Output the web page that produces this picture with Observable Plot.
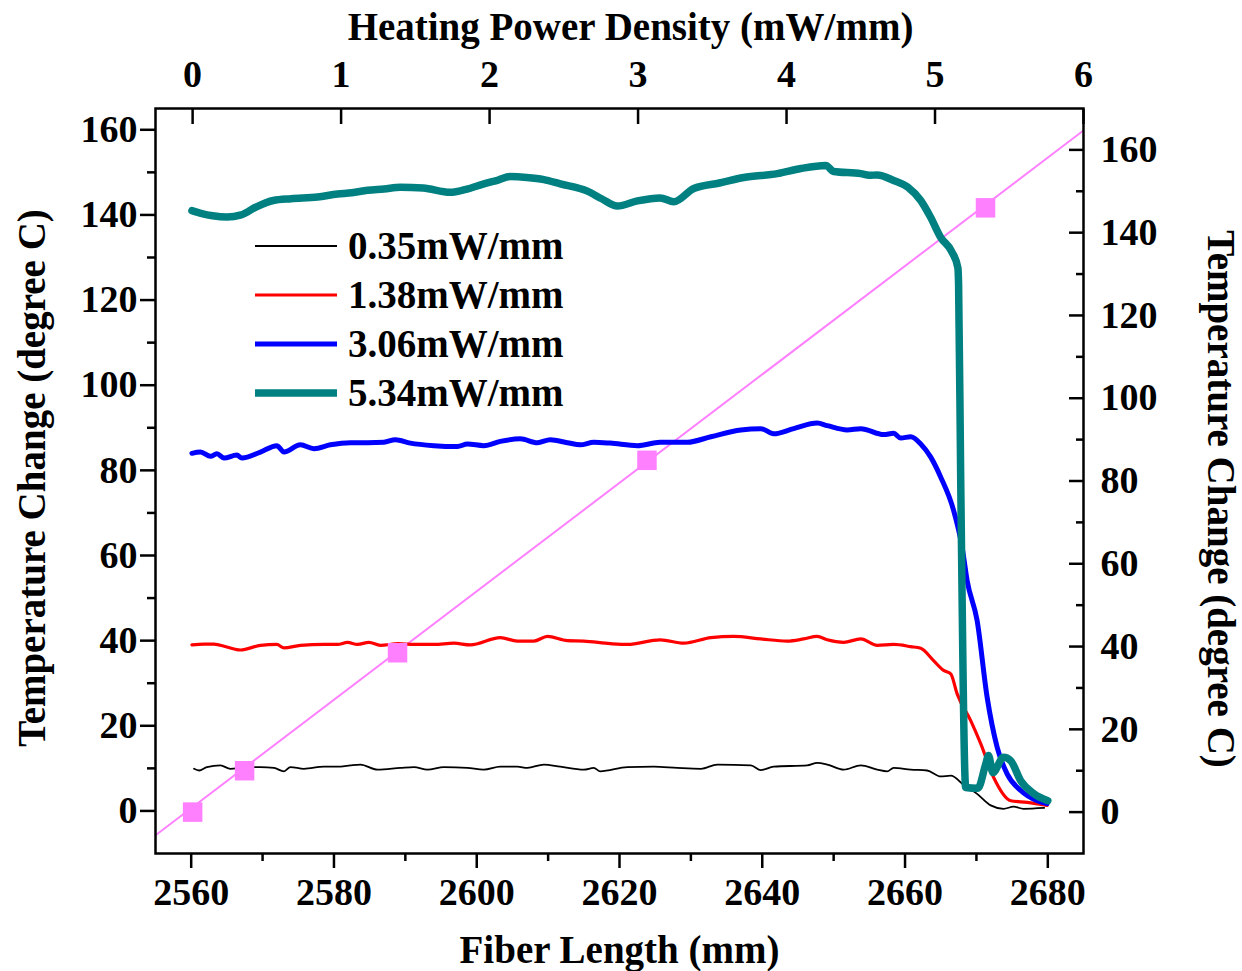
<!DOCTYPE html>
<html><head><meta charset="utf-8">
<script src="https://cdn.jsdelivr.net/npm/d3@7"></script>
<script src="https://cdn.jsdelivr.net/npm/@observablehq/plot@0.6"></script>
<style>
body{margin:0;background:#fff;}
#wrap{position:relative;width:1242px;height:971px;font-family:"Liberation Serif","Times New Roman",serif;font-weight:bold;}
#legend{position:absolute;left:255px;top:221px;}
.item{display:flex;align-items:center;height:49px;font-size:39px;line-height:1;}
.item svg{margin-right:11px;}
</style></head><body><div id="wrap"><div id="chart"></div><div id="legend"></div></div>
<script>
// ---- axes ----
const fiberTicks = [2560, 2580, 2600, 2620, 2640, 2660, 2680];
const fiberMinor = [2570, 2590, 2610, 2630, 2650, 2670];
const tempTicks = [0, 20, 40, 60, 80, 100, 120, 140, 160];
const tempMinor = [10, 30, 50, 70, 90, 110, 130, 150];
const powerTicks = [0, 1, 2, 3, 4, 5, 6];
const fiberDomain = [2555, 2685];
const powerDomain = [-0.25, 6];
const tempDomain = [-10, 165];
const rightDomain = [-10, 170];

// ---- series (Fiber Length mm, Temperature Change degree C) ----
const labels = ["0.35mW/mm", "1.38mW/mm", "3.06mW/mm", "5.34mW/mm"];
const colors = ["#000000", "#ff0000", "#0000ff", "#008080"];
const widths = [1.8, 3.2, 5, 7.5];

const fiber035 = [2560.4,2561.1,2562.2,2564.1,2565.5,2567.3,2569.7,2571.6,2573.0,2573.9,2575.8,2578.6,2580.9,2582.3,2583.7,2586.1,2589.3,2591.2,2593.1,2595.4,2598.7,2601.0,2603.3,2605.7,2607.1,2609.4,2611.7,2615.0,2616.4,2617.3,2621.1,2624.8,2628.1,2631.4,2633.7,2638.4,2639.8,2641.6,2646.3,2647.7,2649.1,2651.4,2653.8,2656.1,2657.5,2658.4,2660.8,2663.1,2665.0,2666.4,2668.3,2670.1,2672.0,2673.8,2675.2,2676.6,2679.5];
const temp035 = [9.9,9.5,10.3,10.7,9.9,10.2,10.3,10.1,9.3,10.3,9.9,10.4,10.4,10.7,10.9,9.7,10.1,10.3,9.7,10.3,10.1,9.7,10.4,10.4,10.1,10.9,10.4,9.7,10.1,9.3,10.3,10.4,10.1,9.9,10.9,10.7,9.6,10.4,10.7,11.3,10.9,9.7,10.7,9.7,9.3,10.1,9.7,9.5,8.1,8.3,6.0,4.0,1.3,0.5,1.0,0.5,0.7];

const fiber138 = [2560.1,2561.8,2563.2,2565.0,2566.9,2569.7,2572.0,2573.0,2575.3,2578.6,2580.5,2581.9,2583.3,2584.9,2586.5,2589.0,2591.2,2594.0,2596.8,2599.1,2603.3,2605.7,2608.0,2609.9,2612.7,2615.0,2618.7,2621.1,2625.7,2629.0,2632.8,2636.0,2639.8,2643.5,2645.8,2647.7,2649.1,2651.4,2653.8,2656.1,2658.4,2660.8,2662.2,2664.0,2665.4,2666.4,2667.3,2669.2,2670.6,2672.4,2674.8,2677.1,2679.9];
const temp138 = [39.0,39.2,39.2,38.5,37.8,38.9,39.1,38.3,38.9,39.1,39.1,39.6,39.1,39.6,38.9,39.3,39.1,39.1,39.4,39.0,40.7,39.9,39.9,41.0,40.0,39.9,39.3,39.1,40.2,39.4,40.7,41.0,40.4,39.9,40.4,41.0,40.2,39.6,40.4,38.9,39.1,38.6,38.2,35.3,33.0,32.2,27.5,21.2,15.8,7.9,2.4,2.0,1.3];

const fiber306 = [2560.1,2561.3,2562.7,2563.6,2564.6,2566.4,2567.1,2569.7,2572.0,2573.0,2575.3,2577.2,2579.5,2582.3,2584.7,2587.0,2588.6,2590.7,2594.0,2597.3,2598.7,2601.0,2603.3,2606.1,2608.5,2610.3,2612.7,2614.5,2616.4,2618.7,2622.5,2625.7,2629.5,2632.8,2637.0,2639.8,2641.6,2644.4,2647.7,2649.1,2651.9,2653.8,2657.0,2658.4,2659.4,2660.8,2662.2,2663.6,2665.0,2666.8,2668.0,2668.7,2670.1,2671.5,2672.9,2674.3,2676.2,2678.5,2679.9];
const temp306 = [84.0,84.3,83.3,83.9,82.9,83.6,82.9,84.3,85.8,84.3,86.0,85.1,86.0,86.5,86.5,86.6,87.2,86.4,85.8,85.6,86.2,85.8,86.8,87.4,86.5,87.2,86.5,86.0,86.6,86.4,85.8,86.6,86.6,87.9,89.5,89.8,88.6,89.8,91.1,90.5,89.5,89.8,88.4,88.7,87.6,87.9,86.2,83.1,78.4,70.6,61.9,54.1,44.7,26.7,15.0,8.7,4.8,2.4,1.7];

const fiber534 = [2560.1,2561.5,2563.0,2565.0,2567.0,2569.0,2571.5,2574.0,2577.7,2580.5,2582.5,2584.7,2587.0,2589.3,2592.5,2596.3,2598.5,2601.0,2603.0,2604.7,2607.0,2609.4,2611.7,2615.5,2617.5,2619.7,2622.5,2625.7,2627.6,2630.4,2634.0,2637.4,2642.1,2645.4,2648.9,2650.0,2653.8,2655.0,2656.1,2658.4,2660.4,2662.2,2663.6,2665.0,2666.5,2667.4,2667.5,2667.8,2668.5,2670.2,2671.3,2671.7,2672.3,2673.8,2674.8,2676.2,2678.0,2680.0];
const temp534 = [141.0,140.3,139.8,139.5,140.0,141.8,143.4,143.8,144.2,144.9,145.2,145.8,146.1,146.5,146.3,145.3,146.0,147.3,148.2,149.0,148.8,148.3,147.3,145.6,143.8,142.1,143.3,144.0,143.1,146.2,147.5,148.8,149.7,150.9,151.6,150.2,149.7,149.3,149.4,148.1,146.5,143.4,139.4,134.7,131.5,127.6,123.9,77.6,5.5,5.3,11.0,13.0,9.0,12.6,11.8,7.1,4.1,2.4];

// ---- calibration points and linear fit (Heating Power Density mW/mm, right-axis Temperature Change) ----
const powerPoints = [0, 0.35, 1.38, 3.06, 5.34];
const tempPoints = [0, 10, 38.5, 85, 146];
const fitPower = [-0.25, 6];
const fitTemp = [-5.6, 164.7];

// scale conversions between the paired axes
const powerToFiber = p => fiberDomain[0] + (p - powerDomain[0]) * (fiberDomain[1] - fiberDomain[0]) / (powerDomain[1] - powerDomain[0]);
const fiberToPower = f => powerDomain[0] + (f - fiberDomain[0]) * (powerDomain[1] - powerDomain[0]) / (fiberDomain[1] - fiberDomain[0]);
const rightToLeft = r => tempDomain[0] + (r - rightDomain[0]) * (tempDomain[1] - tempDomain[0]) / (rightDomain[1] - rightDomain[0]);
const leftToRight = t => rightDomain[0] + (t - tempDomain[0]) * (rightDomain[1] - rightDomain[0]) / (tempDomain[1] - tempDomain[0]);

const seriesF = [fiber035, fiber138, fiber306, fiber534];
const seriesT = [temp035, temp138, temp306, temp534];
const rows = [];
seriesF.forEach((fs, k) => fs.forEach((f, i) => rows.push({series: labels[k], fiber: f, temp: seriesT[k][i]})));
const points = powerPoints.map((p, i) => ({power: p, temp: tempPoints[i]}));
const fit = fitPower.map((p, i) => ({power: p, temp: fitTemp[i]}));

const lineMarks = labels.map((lab, k) => Plot.line(rows.filter(d => d.series === lab), {
  x: "fiber", y: "temp", stroke: colors[k], strokeWidth: widths[k], strokeLinejoin: "round", strokeLinecap: "round", curve: "monotone-x"
}));

const tf = 38;
const chart = Plot.plot({
  width: 1242, height: 971,
  marginLeft: 155, marginRight: 159, marginTop: 108, marginBottom: 118,
  x: {domain: fiberDomain},
  y: {domain: tempDomain},
  style: {fontFamily: "'Liberation Serif', 'Times New Roman', serif", fontWeight: "bold", fontSize: tf + "px", color: "black", background: "white", overflow: "visible"},
  marks: [
    Plot.line(fit, {x: d => powerToFiber(d.power), y: d => rightToLeft(d.temp), stroke: "#ff80ff", strokeWidth: 2, clip: true}),
    ...lineMarks,
    Plot.dot(points, {x: d => powerToFiber(d.power), y: d => rightToLeft(d.temp), symbol: "square", r: 11, fill: "#ff80ff", stroke: "none"}),
    Plot.frame({stroke: "black", strokeWidth: 2.5}),
    // bottom axis
    Plot.axisX(fiberTicks, {anchor: "bottom", tickSize: 15, tickPadding: 10, strokeWidth: 2.5, tickFormat: d => String(d), label: null}),
    Plot.axisX(fiberMinor, {anchor: "bottom", tickSize: 8, strokeWidth: 2.5, tickFormat: () => "", label: null}),
    // left axis
    Plot.axisY(tempTicks, {anchor: "left", tickSize: 15, tickPadding: 3, strokeWidth: 2.5, tickFormat: d => String(d), label: null}),
    Plot.axisY(tempMinor, {anchor: "left", tickSize: 8, strokeWidth: 2.5, tickFormat: () => "", label: null}),
    // top axis (power density)
    Plot.axisX(powerTicks.map(powerToFiber), {anchor: "top", tickSize: -15, tickPadding: 37, strokeWidth: 2.5, tickFormat: d => String(Math.round(fiberToPower(d))), label: null}),
    // right axis
    Plot.axisY(tempTicks.map(rightToLeft), {anchor: "right", tickSize: -15, tickPadding: 32, strokeWidth: 2.5, tickFormat: d => String(Math.round(leftToRight(d))), label: null}),
    Plot.axisY(tempMinor.map(rightToLeft), {anchor: "right", tickSize: -8, strokeWidth: 2.5, tickFormat: () => "", label: null}),
    // axis titles
    Plot.text(["Fiber Length (mm)"], {text: d => d, frameAnchor: "bottom", textAnchor: "middle", lineAnchor: "middle", dy: 97, fontSize: 39}),
    Plot.text(["Heating Power Density (mW/mm)"], {text: d => d, frameAnchor: "top", textAnchor: "middle", lineAnchor: "middle", dy: -81, dx: 11, fontSize: 39}),
    Plot.text(["Temperature Change (degree C)"], {text: d => d, frameAnchor: "left", textAnchor: "middle", lineAnchor: "middle", rotate: -90, dx: -123, dy: -3, fontSize: 39}),
    Plot.text(["Temperature Change (degree C)"], {text: d => d, frameAnchor: "right", textAnchor: "middle", lineAnchor: "middle", rotate: 90, dx: 137, dy: 18, fontSize: 39})
  ]
});
document.getElementById("chart").appendChild(chart);

// legend
const legend = document.getElementById("legend");
labels.forEach((lab, k) => {
  const item = document.createElement("div");
  item.className = "item";
  item.innerHTML = `<svg width="82" height="12"><line x1="0" x2="82" y1="6" y2="6" stroke="${colors[k]}" stroke-width="${widths[k]}"/></svg><span>${lab}</span>`;
  legend.appendChild(item);
});
</script>
</body></html>
